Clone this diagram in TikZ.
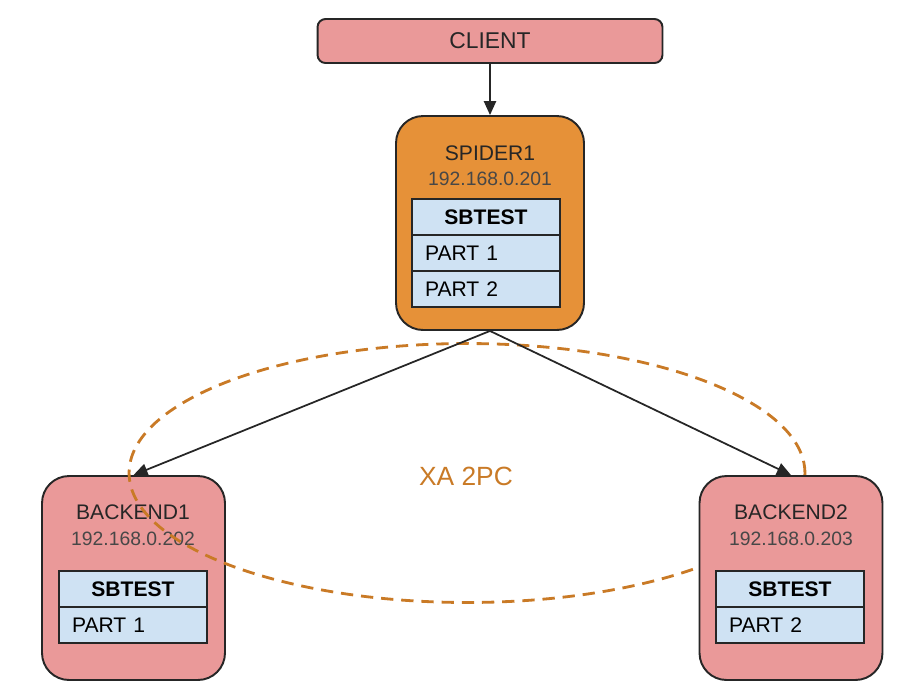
\documentclass[tikz,border=0pt]{standalone}
\usepackage{fontspec}
\setmainfont{Liberation Sans}
\usetikzlibrary{positioning,arrows.meta,shapes.geometric}

\definecolor{boxpink}{HTML}{EA9999}
\definecolor{boxorange}{HTML}{E69138}
\definecolor{cellblue}{HTML}{CFE2F3}
\definecolor{xaorange}{HTML}{C97A26}
\definecolor{edge}{HTML}{262626}

\begin{document}
\begin{tikzpicture}[x=0.02cm,y=-0.02cm,
    host/.style={draw=edge,line width=1.1pt,rounded corners=0.54cm},
    hostname/.style={text=edge,font=\fontsize{12}{14}\selectfont},
    hostip/.style={text=edge!85,font=\fontsize{11}{13}\selectfont},
    cell/.style={draw=edge,line width=0.9pt,fill=cellblue,outer sep=0pt,
      minimum height=0.72cm,text width=2.44cm,inner xsep=0.26cm,
      font=\fontsize{12}{14}\selectfont,align=left},
    head/.style={cell,align=center,font=\fontsize{12}{14}\selectfont\bfseries},
    xa ring/.style={ellipse,draw=xaorange,line width=1.6pt,dash pattern=on 7pt off 4.5pt,
      inner sep=0pt,minimum width=13.52cm,minimum height=5.18cm},
    arr/.style={-{Triangle[length=8pt,width=7pt]},draw=edge,line width=1pt}]
  \useasboundingbox (0,0) rectangle (910,698);

  \node[draw=edge,line width=1.1pt,fill=boxpink,rounded corners=0.16cm,
    minimum width=6.9cm,minimum height=0.88cm,font=\fontsize{13}{15}\selectfont,text=edge]
    (client) at (490,41) {CLIENT};

  \node[host,fill=boxorange,minimum width=3.76cm,minimum height=4.28cm] (spider) at (490,223) {};
  \node[hostname] (s-name) at (490,153) {SPIDER1};
  \node[hostip] (s-ip) at (490,179) {192.168.0.201};
  \node[head] (s-head) at (486,217) {SBTEST};
  \node[cell,below=0pt of s-head] (s-p1) {PART 1};
  \node[cell,below=0pt of s-p1] (s-p2) {PART 2};

  \node[host,fill=boxpink,minimum width=3.66cm,minimum height=4.08cm] (b1) at (133.5,578) {};
  \node[hostname] (b1-name) at (133,512) {BACKEND1};
  \node[hostip] (b1-ip) at (133,539) {192.168.0.202};
  \node[head] (b1-head) at (133,589) {SBTEST};
  \node[cell,below=0pt of b1-head] (b1-p1) {PART 1};

  \node[xa ring] (ring) at (467,473) {};

  \node[host,fill=boxpink,minimum width=3.66cm,minimum height=4.08cm] (b2) at (791,578) {};
  \node[hostname] (b2-name) at (791,512) {BACKEND2};
  \node[hostip] (b2-ip) at (791,539) {192.168.0.203};
  \node[head] (b2-head) at (790,589) {SBTEST};
  \node[cell,below=0pt of b2-head] (b2-p2) {PART 2};

  \node[text=xaorange,font=\fontsize{15}{18}\selectfont] (xa) at (466,476) {XA 2PC};

  \draw[arr] (client.south) -- (spider.north);
  \draw[arr] (spider.south) -- (b1.north);
  \draw[arr] (spider.south) -- (b2.north);
\end{tikzpicture}
\end{document}
